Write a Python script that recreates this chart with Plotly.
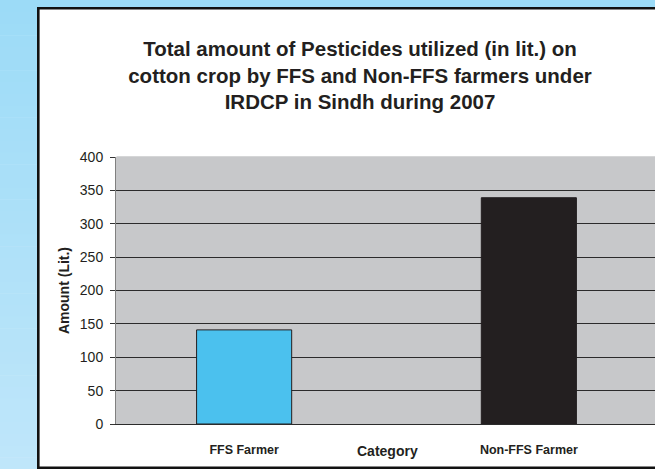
import plotly.graph_objects as go

# Data
categories = ["FFS Farmer", "Non-FFS Farmer"]
amounts = [141, 339]
bar_colors = ["#4bc1ee", "#231f20"]
y_ticks = [0, 50, 100, 150, 200, 250, 300, 350, 400]
title_lines = [
    "Total amount of Pesticides utilized (in lit.) on",
    "cotton crop by FFS and Non-FFS farmers under",
    "IRDCP in Sindh during 2007",
]

# Canvas and plot-area geometry (pixels)
W, H = 655, 469
L, R, T, B = 116, 0, 157, 45
pw, ph = W - L - R, H - T - B


def px_x(x):
    return (x - L) / pw


def px_y(y):
    return (H - B - y) / ph


FONT = "Liberation Sans, Arial, Helvetica, sans-serif"
INK = "#231f20"
PLOT_BG = "#c7c8ca"

shapes = []
# light-blue backdrop with a vertical gradient along the left edge
top_rgb = (156, 219, 247)
bot_rgb = (191, 230, 250)
n = 40
for i in range(n):
    f = i / (n - 1)
    r, g, b = (round(a + (c - a) * f) for a, c in zip(top_rgb, bot_rgb))
    shapes.append(dict(
        type="rect", xref="paper", yref="paper", layer="below",
        x0=px_x(0), x1=px_x(38.5),
        y0=px_y(H * (i + 1) / n + 0.5), y1=px_y(H * i / n),
        fillcolor=f"rgb({r},{g},{b})", line=dict(width=0),
    ))
# strip along the top edge
shapes.append(dict(
    type="rect", xref="paper", yref="paper", layer="below",
    x0=px_x(0), x1=px_x(W + 5), y0=px_y(8.5), y1=px_y(-2),
    fillcolor="rgb(156,219,247)", line=dict(width=0),
))
# black frame around the chart
shapes.append(dict(
    type="rect", xref="paper", yref="paper", layer="above",
    x0=px_x(38.3), x1=px_x(W + 20), y0=px_y(H - 1.3), y1=px_y(8.2),
    fillcolor="rgba(0,0,0,0)", line=dict(color="#111111", width=2.6),
))
# keep the top edge of the plotting area plain (no gridline at the maximum)
shapes.append(dict(
    type="line", xref="paper", yref="paper", layer="above",
    x0=px_x(116.5), x1=1, y0=1, y1=1,
    line=dict(color=PLOT_BG, width=1.5),
))

fig = go.Figure(go.Bar(
    x=categories,
    y=amounts,
    width=0.334,
    marker=dict(color=bar_colors, line=dict(color=INK, width=1)),
    hoverinfo="x+y",
))

fig.update_layout(
    width=W,
    height=H,
    margin=dict(l=L, r=R, t=T, b=B, pad=0),
    paper_bgcolor="white",
    plot_bgcolor=PLOT_BG,
    font=dict(family=FONT, color=INK),
    showlegend=False,
    shapes=shapes,
    title=dict(
        text="<br>".join(title_lines),
        font=dict(size=20.5, weight="bold", color=INK),
        x=360 / W, xref="container", xanchor="center",
        y=1 - 56 / H, yref="container", yanchor="top",
    ),
    xaxis=dict(
        type="category",
        range=[-0.45, 1.443],
        showline=True, linecolor="#2b2b2b", linewidth=1,
        ticks="", showgrid=False, zeroline=False,
        tickfont=dict(size=12.5, weight="bold", color=INK),
        ticklabelstandoff=14,
    ),
    yaxis=dict(
        range=[0, 400],
        tickvals=y_ticks,
        showgrid=True, gridcolor="#2b2b2b", gridwidth=1,
        zeroline=False,
        showline=True, linecolor="#808080", linewidth=1,
        ticks="outside", ticklen=5, tickcolor="#333333",
        tickfont=dict(size=14, color=INK),
        ticklabelstandoff=4,
        title=dict(text="Amount (Lit.)", font=dict(size=14, weight="bold"), standoff=6),
    ),
    annotations=[dict(
        text="Category", xref="paper", yref="paper",
        x=px_x(387.5), y=px_y(450.6), xanchor="center", yanchor="middle",
        showarrow=False, font=dict(size=14, weight="bold", color=INK),
    )],
)

fig.write_html("out.html")
